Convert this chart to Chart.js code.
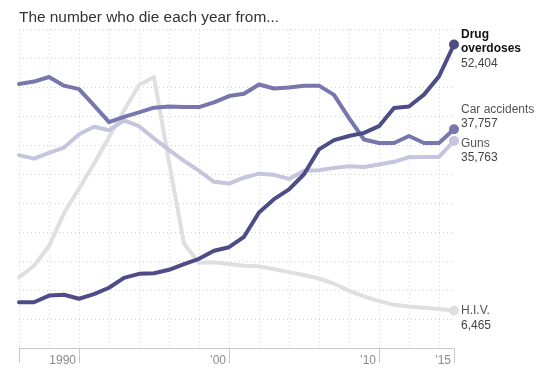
<!DOCTYPE html>
<html>
<head>
<meta charset="utf-8">
<script src="https://cdn.jsdelivr.net/npm/chart.js@4"></script>
<style>
  html, body { margin: 0; padding: 0; background: #fff; }
  #wrap { width: 542px; height: 376px; }
</style>
</head>
<body>
<div id="wrap"><canvas id="chart" width="542" height="376"></canvas></div>
<script>
const years = [1986, 1987, 1988, 1989, 1990, 1991, 1992, 1993, 1994, 1995,
  1996, 1997, 1998, 1999, 2000, 2001, 2002, 2003, 2004, 2005,
  2006, 2007, 2008, 2009, 2010, 2011, 2012, 2013, 2014, 2015];

const drugOverdoses = [7900, 7900, 9050, 9200, 8500, 9300, 10400, 12100, 12800, 12900,
  13500, 14500, 15400, 16800, 17400, 19200, 23400, 25700, 27400, 30000,
  34300, 35900, 36600, 37150, 38300, 41450, 41700, 43750, 46900, 52404];

const carAccidents = [45600, 46000, 46800, 45300, 44700, 41900, 39000, 39900, 40700, 41500,
  41700, 41600, 41600, 42400, 43500, 43900, 45500, 44800, 45000, 45300,
  45300, 43700, 39700, 36000, 35400, 35400, 36600, 35400, 35400, 37757];

const guns = [33300, 32700, 33700, 34600, 36900, 38200, 37600, 39300, 38300, 36200,
  34200, 32300, 30600, 28700, 28400, 29400, 30100, 29900, 29200, 30600,
  30700, 31100, 31400, 31250, 31700, 32150, 32950, 33000, 33000, 35763];

const hiv = [12200, 14200, 17600, 23300, 27500, 31800, 36400, 41000, 45400, 46800,
  32100, 18000, 14700, 14800, 14500, 14200, 14100, 13600, 13100, 12600,
  12000, 11100, 9900, 8900, 8100, 7450, 7150, 6950, 6750, 6465];

const gridYears = [1986, 1988, 1990, 1992, 1994, 1996, 1998, 2000, 2002, 2004, 2006, 2008, 2010, 2012, 2014];
const tickYears = [1986, 1990, 2000, 2010, 2015];
const tickLabels = ['', '1990', '\u201900', '\u201910', '\u201915'];

const seriesNames = [['Drug', 'overdoses'], ['Car accidents'], ['Guns'], ['H.I.V.']];

const FONT = '"Liberation Sans", Arial, Helvetica, sans-serif';

// where the end labels sit relative to the last point (first name line, then value)
const labelOffsets = [[-10, 4, 19], [-20, -6], [3, 17], [0, 15]];
const labelBold = [true, false, false, false];

function makeSet(label, values, color) {
  return {
    label: label,
    data: years.map((yr, i) => ({ x: yr, y: values[i] })),
    borderColor: color,
    backgroundColor: color,
    borderWidth: 4,
    pointRadius: c => (c.dataIndex === values.length - 1 ? 5 : 0),
    pointBorderWidth: 0,
    pointHoverRadius: 0,
    tension: 0,
    borderCapStyle: 'round',
    borderJoinStyle: 'round',
    clip: false,
    xAxisID: 'x',
    yAxisID: 'y'
  };
}

const endLabels = {
  id: 'endLabels',
  afterDatasetsDraw(chart) {
    const ctx = chart.ctx;
    ctx.save();
    ctx.textBaseline = 'middle';
    ctx.textAlign = 'left';
    chart.data.datasets.forEach((ds, i) => {
      const meta = chart.getDatasetMeta(i);
      const pt = meta.data[meta.data.length - 1];
      const names = seriesNames[i];
      const offs = labelOffsets[i];
      const last = ds.data[ds.data.length - 1].y;
      const x = pt.x + 7;
      names.forEach((n, k) => {
        ctx.font = (labelBold[i] ? 'bold ' : '') + '12px ' + FONT;
        ctx.fillStyle = labelBold[i] ? '#111' : '#555';
        ctx.fillText(n, x, pt.y + offs[k]);
      });
      ctx.font = '12px ' + FONT;
      ctx.fillStyle = '#444';
      ctx.fillText(last.toLocaleString('en-US'), x, pt.y + offs[names.length]);
    });
    ctx.restore();
  }
};

new Chart(document.getElementById('chart'), {
  type: 'line',
  data: {
    datasets: [
      makeSet('Drug overdoses', drugOverdoses, '#4d4c86'),
      makeSet('Car accidents', carAccidents, '#7776ad'),
      makeSet('Guns', guns, '#c5c5de'),
      makeSet('H.I.V.', hiv, '#dfdfdf')
    ]
  },
  options: {
    responsive: false,
    animation: false,
    devicePixelRatio: 1,
    layout: { padding: { left: 19, right: 88, top: 0, bottom: 0 } },
    plugins: {
      legend: { display: false },
      tooltip: { enabled: false },
      title: {
        display: true,
        text: 'The number who die each year from...',
        align: 'start',
        color: '#333',
        font: { size: 15.4, family: FONT, weight: 'normal' },
        padding: { top: 9, bottom: 2 }
      }
    },
    scales: {
      x: {
        type: 'linear',
        min: 1986,
        max: 2015,
        afterBuildTicks: s => { s.ticks = gridYears.map(v => ({ value: v })); },
        grid: { color: '#d2d2d2', drawTicks: false },
        border: { display: false, dash: [1, 3] },
        ticks: { display: false },
        afterFit: s => { s.height = 0; }
      },
      xl: {
        type: 'linear',
        position: 'bottom',
        min: 1986,
        max: 2015,
        afterBuildTicks: s => { s.ticks = tickYears.map(v => ({ value: v })); },
        grid: { drawOnChartArea: false, tickLength: 15, tickColor: '#c8c8c8', color: '#c8c8c8' },
        border: { display: true, color: '#c8c8c8', width: 1 },
        ticks: {
          autoSkip: false,
          maxRotation: 0,
          align: 'end',
          labelOffset: -3,
          padding: -10,
          color: '#8a8a8a',
          font: { size: 12, family: FONT },
          callback: v => tickLabels[tickYears.indexOf(v)]
        },
        afterFit: s => { s.height = 28; }
      },
      y: {
        min: 0,
        max: 55000,
        ticks: { display: false, stepSize: 5000 },
        grid: {
          drawTicks: false,
          color: c => (c.tick && c.tick.value === 0 ? 'rgba(0,0,0,0)' : '#d2d2d2')
        },
        border: { display: false, dash: [1, 3] },
        afterFit: s => { s.width = 0; }
      }
    }
  },
  plugins: [endLabels]
});
</script>
</body>
</html>
